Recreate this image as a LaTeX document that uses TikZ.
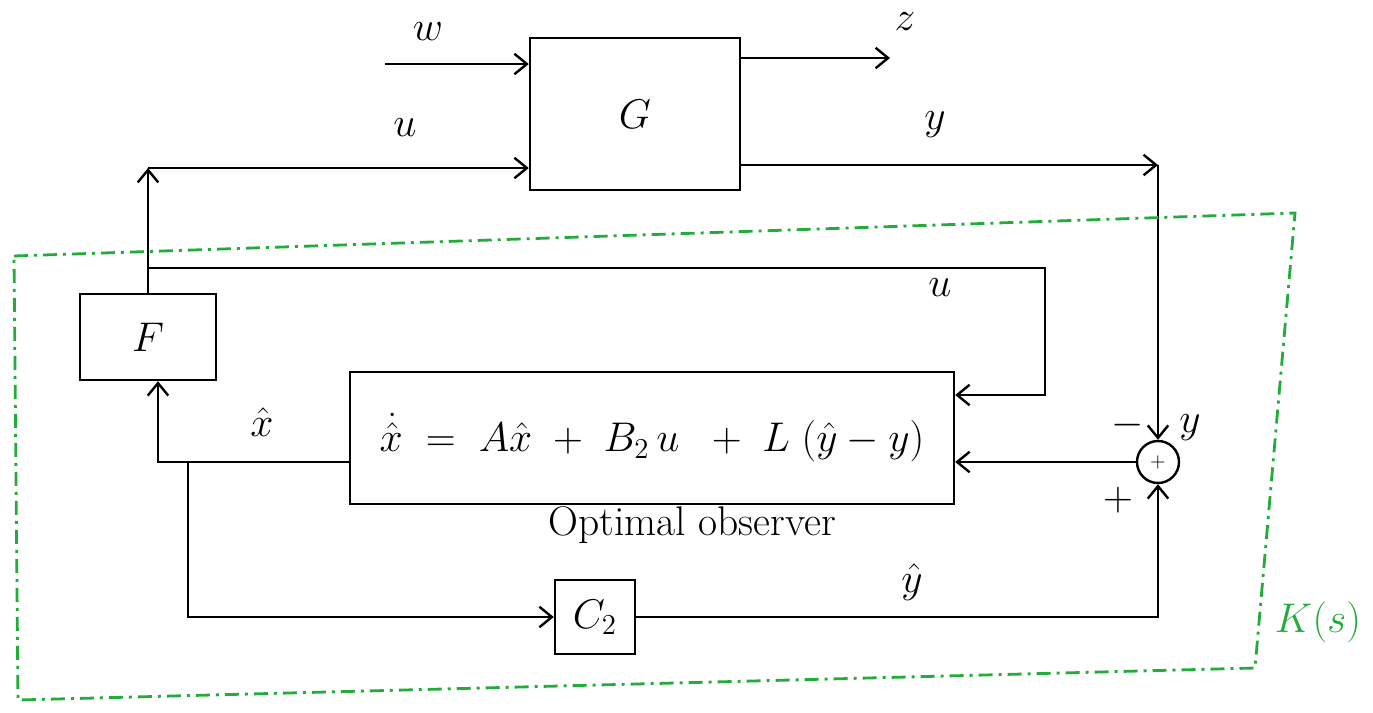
\documentclass[tikz,border=0pt]{standalone}
\usepackage{amsmath,amssymb}
\usepackage{tikz}
\usetikzlibrary{arrows.meta,positioning,calc}
\definecolor{kgreen}{RGB}{34,172,58}
\tikzset{blk/.style={draw=black,line width=1.2pt,fill=white,align=center,
 inner sep=4pt,font=\huge},arr/.style={-{Straight Barb[length=2.2mm,width=3.6mm]},line width=1.2pt},
 lbl/.style={font=\huge,inner sep=1pt},
 frame/.style={draw=kgreen,line width=1.4pt,dash pattern=on 7pt off 3pt on 1.5pt off 3pt}}

\begin{document}
\begin{tikzpicture}[x=0.5pt,y=-0.5pt]
\useasboundingbox (0,0) rectangle (1373,713);
\node[blk,minimum width=105pt,minimum height=76pt] (G) at (635,114) {$G$};
\node[blk,minimum width=68pt,minimum height=43pt] (F) at (148,337) {$F$};
\node[blk,minimum width=302pt,minimum height=66pt,font=\huge] (obs) at (652,438) {$\dot{\hat{x}}\;=\;A\hat{x}\;+\;B_2\,u\;\;+\;L\;(\hat{y}-y)$};
\node[blk,minimum width=40pt,minimum height=37pt] (C) at (595,617) {$C_2$};
\node[draw=black,line width=1.2pt,circle,minimum size=21pt,inner sep=0pt,font=\normalsize] (sum) at (1158,462) {$+$};
\coordinate (w0) at (385,64);
\coordinate (z1) at (890,58);
\coordinate (uc) at (148,168);
\coordinate (yc) at (1158,165);
\coordinate (ub) at (148,268);
\coordinate (ur) at (1045,268);
\coordinate (ui) at (1045,395);
\coordinate (xl) at (158,462);
\coordinate (xb) at (188,462);
\coordinate (xd) at (188,617);
\draw[arr] (w0)--(w0-|G.west);
\draw[arr] (G.east|-z1)--(z1);
\draw[arr] (F.north)--(uc);
\draw[arr] (uc)--(uc-|G.west);
\draw[arr] (G.east|-yc)--(yc);
\draw[arr] (yc)--(sum.north);
\draw[arr] (ub)--(ur)--(ui)--(ui-|obs.east);
\draw[arr] (sum.west)--(sum.west-|obs.east);
\draw[arr] (obs.west|-xl)--(xl)--(xl|-F.south);
\draw[arr] (xb)--(xd)--(C.west);
\draw[arr] (C.east)--(C.east-|sum)--(sum.south);
\node[lbl] (lw) at (428,32) {$w$};
\node[lbl] (lz) at (905,22) {$z$};
\node[lbl] (lu) at (405,128) {$u$};
\node[lbl] (ly) at (935,125) {$y$};
\node[lbl] (lu2) at (940,288) {$u$};
\node[lbl] (lx) at (262,422) {$\hat{x}$};
\node[lbl] (lyh) at (912,582) {$\hat{y}$};
\node[lbl] (lm) at (1128,425) {$-$};
\node[lbl] (ly2) at (1190,428) {$y$};
\node[lbl] (lp) at (1118,500) {$+$};
\node[font=\huge] (lo) at (692,525) {Optimal observer};
\draw[frame] (14,256)--(1295,213)--(1255,668)--(18,700)--cycle;
\node[lbl,text=kgreen,font=\huge] (lk) at (1318,622) {$K(s)$};
\end{tikzpicture}
\end{document}
